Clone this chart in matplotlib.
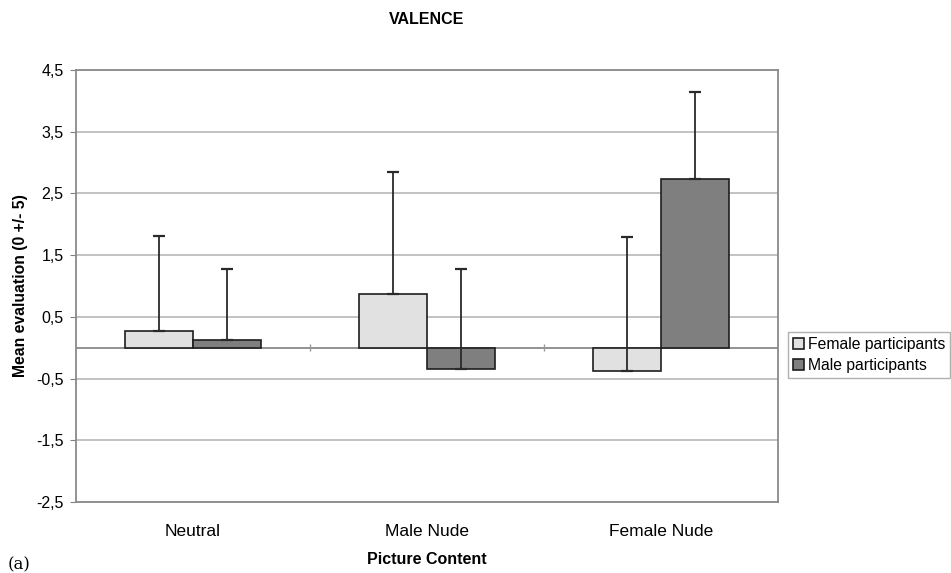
import numpy as np
import matplotlib
matplotlib.use("Agg")
import matplotlib.pyplot as plt
from matplotlib.ticker import FuncFormatter

plt.rcParams["font.family"] = ["Liberation Sans", "DejaVu Sans"]

categories = ["Neutral", "Male Nude", "Female Nude"]
female_mean = [0.27, 0.87, -0.37]
male_mean = [0.13, -0.35, 2.73]
female_err = [1.54, 1.98, 2.16]
male_err = [1.14, 1.63, 1.41]
series_names = ["Female participants", "Male participants"]
y_ticks = [-2.5, -1.5, -0.5, 0.5, 1.5, 2.5, 3.5, 4.5]

fig = plt.figure(figsize=(9.51, 5.73), dpi=100)
ax = fig.add_axes([0.0799, 0.1239, 0.738, 0.7539])

x = np.arange(len(categories))
w = 0.29
grid_c = "#bdbdbd"

for yt in y_ticks:
    ax.axhline(yt, color=grid_c, lw=1.3, zorder=0)

ax.bar(x - w / 2, female_mean, w, color="#e1e1e1", edgecolor="#1e1e1e", lw=1.2, zorder=2,
       label=series_names[0])
ax.bar(x + w / 2, male_mean, w, color="#7f7f7f", edgecolor="#1e1e1e", lw=1.2, zorder=2,
       label=series_names[1])

# only the upper half of the error bars is shown
ax.errorbar(x - w / 2, female_mean, yerr=[np.zeros(3), female_err], fmt="none",
            ecolor="#2a2a2a", elinewidth=1.3, capsize=4, capthick=1.6, zorder=3)
ax.errorbar(x + w / 2, male_mean, yerr=[np.zeros(3), male_err], fmt="none",
            ecolor="#2a2a2a", elinewidth=1.3, capsize=4, capthick=1.6, zorder=3)

# category axis at zero with tick marks between groups
ax.axhline(0, color="#8a8a8a", lw=1.3, zorder=1)
bounds = np.arange(len(categories) - 1) + 0.5
ax.vlines(bounds, -0.06, 0.06, color="#9a9a9a", lw=1.0, zorder=1)

ax.set_xlim(-0.5, len(categories) - 0.5)
ax.set_ylim(y_ticks[0], y_ticks[-1])
ax.set_yticks(y_ticks)
ax.yaxis.set_major_formatter(FuncFormatter(lambda v, p: f"{v:.1f}".replace(".", ",")))
ax.tick_params(axis="y", direction="out", length=4, color="#808080", labelsize=11.5, pad=5)
ax.set_xticks(x)
ax.set_xticklabels(categories, fontsize=12.5)
ax.tick_params(axis="x", length=0, pad=16)

for s in ["left", "top", "right", "bottom"]:
    ax.spines[s].set_color("#8a8a8a")
    ax.spines[s].set_linewidth(1.3)

ax.set_ylabel("Mean evaluation (0 +/- 5)", fontsize=11.3, fontweight="bold", labelpad=6)
ax.set_xlabel("Picture Content", fontsize=11.5, fontweight="bold", labelpad=9)
ax.set_title("VALENCE", fontsize=11.5, fontweight="bold", pad=33)

fig.legend(loc="upper left", bbox_to_anchor=(0.829, 0.42), fontsize=11.3,
           handlelength=0.7, handleheight=0.7, handletextpad=0.25, labelspacing=0.4,
           borderpad=0.3, borderaxespad=0, fancybox=False, edgecolor="#b0b0b0",
           framealpha=1)

fig.text(0.008, 0.006, "(a)", fontsize=12, family="DejaVu Serif")

fig.savefig("out.png", dpi=100)
